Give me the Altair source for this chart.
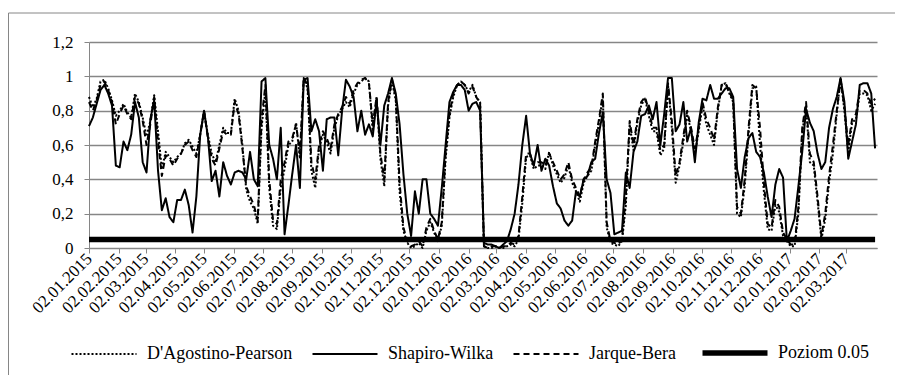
import altair as alt
import pandas as pd

start_date = "2015-01-02"
step_days = 4

# p-values, one every 4 days from 02.01.2015
shapiro = [0.71, 0.76, 0.84, 0.92, 0.95, 0.90, 0.83, 0.48, 0.47, 0.62,
           0.57, 0.66, 0.85, 0.76, 0.50, 0.44, 0.75, 0.86, 0.45, 0.22,
           0.29, 0.18, 0.15, 0.28, 0.28, 0.34, 0.25, 0.09, 0.30, 0.66,
           0.80, 0.65, 0.39, 0.45, 0.30, 0.50, 0.42, 0.37, 0.44, 0.45,
           0.44, 0.40, 0.56, 0.40, 0.36, 0.97, 0.99, 0.60, 0.52, 0.40,
           0.70, 0.08, 0.25, 0.43, 0.60, 0.35, 0.98, 0.99, 0.68, 0.75,
           0.68, 0.45, 0.75, 0.76, 0.76, 0.54, 0.80, 0.98, 0.94, 0.88,
           0.68, 0.80, 0.66, 0.72, 0.65, 0.86, 0.60, 0.83, 0.90, 0.99,
           0.90, 0.72, 0.43, 0.20, 0.07, 0.33, 0.20, 0.40, 0.40, 0.20,
           0.17, 0.13, 0.35, 0.60, 0.85, 0.91, 0.95, 0.95, 0.92, 0.80,
           0.84, 0.85, 0.80, 0.03, 0.02, 0.02, 0.01, 0.00, 0.02, 0.04,
           0.11, 0.20, 0.37, 0.60, 0.77, 0.55, 0.48, 0.60, 0.45, 0.52,
           0.48, 0.36, 0.26, 0.23, 0.16, 0.13, 0.16, 0.33, 0.30, 0.40,
           0.42, 0.50, 0.52, 0.67, 0.79, 0.40, 0.32, 0.08, 0.09, 0.10,
           0.44, 0.35, 0.56, 0.62, 0.77, 0.78, 0.83, 0.75, 0.85, 0.60,
           0.78, 0.99, 0.99, 0.68, 0.72, 0.85, 0.62, 0.70, 0.50, 0.73,
           0.87, 0.86, 0.95, 0.87, 0.87, 0.90, 0.93, 0.93, 0.88, 0.46,
           0.35, 0.53, 0.64, 0.67, 0.56, 0.53, 0.44, 0.30, 0.18, 0.37,
           0.46, 0.41, 0.04, 0.10, 0.17, 0.36, 0.56, 0.81, 0.73, 0.68,
           0.55, 0.46, 0.50, 0.70, 0.81, 0.88, 0.99, 0.85, 0.52, 0.62,
           0.72, 0.95, 0.96, 0.96, 0.90, 0.58]

dagostino = [0.88, 0.82, 0.87, 0.97, 0.98, 0.93, 0.86, 0.77, 0.80, 0.84,
             0.79, 0.76, 0.90, 0.85, 0.76, 0.65, 0.74, 0.89, 0.68, 0.46,
             0.56, 0.53, 0.50, 0.53, 0.55, 0.61, 0.63, 0.59, 0.55, 0.66,
             0.79, 0.66, 0.55, 0.50, 0.60, 0.70, 0.67, 0.67, 0.87, 0.80,
             0.60, 0.34, 0.27, 0.23, 0.14, 0.70, 0.92, 0.35, 0.13, 0.11,
             0.35, 0.46, 0.60, 0.62, 0.73, 0.52, 0.99, 0.93, 0.45, 0.35,
             0.58, 0.66, 0.62, 0.55, 0.70, 0.77, 0.81, 0.85, 0.82, 0.90,
             0.95, 0.97, 0.99, 0.97, 0.68, 0.88, 0.52, 0.36, 0.83, 0.97,
             0.86, 0.33, 0.10, 0.03, 0.00, 0.01, 0.03, 0.00, 0.10, 0.15,
             0.09, 0.04, 0.13, 0.52, 0.76, 0.88, 0.95, 0.97, 0.95, 0.91,
             0.95, 0.88, 0.85, 0.01, 0.00, 0.00, 0.01, 0.00, 0.00, 0.01,
             0.02, 0.01, 0.05, 0.26, 0.53, 0.54, 0.46, 0.48, 0.48, 0.46,
             0.56, 0.48, 0.43, 0.38, 0.41, 0.48, 0.38, 0.33, 0.27, 0.38,
             0.42, 0.45, 0.60, 0.73, 0.88, 0.12, 0.03, 0.02, 0.01, 0.04,
             0.25, 0.72, 0.57, 0.73, 0.83, 0.87, 0.77, 0.68, 0.68, 0.54,
             0.58, 0.95, 0.70, 0.38, 0.48, 0.62, 0.78, 0.68, 0.55, 0.68,
             0.83, 0.72, 0.66, 0.60, 0.80, 0.95, 0.96, 0.90, 0.85, 0.20,
             0.18, 0.36, 0.66, 0.93, 0.94, 0.60, 0.33, 0.11, 0.10, 0.25,
             0.21, 0.07, 0.04, 0.01, 0.01, 0.20, 0.67, 0.83, 0.50, 0.48,
             0.27, 0.05, 0.17, 0.38, 0.55, 0.78, 0.99, 0.80, 0.56, 0.73,
             0.75, 0.90, 0.90, 0.89, 0.80, 0.84]

jarque = [0.85, 0.80, 0.86, 0.95, 0.97, 0.92, 0.85, 0.72, 0.78, 0.83,
          0.78, 0.75, 0.88, 0.84, 0.74, 0.60, 0.72, 0.88, 0.62, 0.42,
          0.54, 0.52, 0.48, 0.52, 0.55, 0.60, 0.62, 0.57, 0.53, 0.66,
          0.80, 0.64, 0.52, 0.48, 0.58, 0.68, 0.66, 0.66, 0.85, 0.78,
          0.58, 0.36, 0.30, 0.25, 0.16, 0.75, 0.95, 0.40, 0.16, 0.14,
          0.40, 0.50, 0.62, 0.64, 0.72, 0.55, 0.99, 0.95, 0.50, 0.40,
          0.60, 0.68, 0.64, 0.58, 0.72, 0.78, 0.82, 0.88, 0.84, 0.92,
          0.96, 0.98, 0.99, 0.96, 0.72, 0.88, 0.55, 0.40, 0.85, 0.98,
          0.88, 0.38, 0.12, 0.04, 0.01, 0.02, 0.04, 0.01, 0.12, 0.17,
          0.10, 0.05, 0.15, 0.55, 0.78, 0.90, 0.95, 0.97, 0.95, 0.90,
          0.94, 0.88, 0.84, 0.01, 0.00, 0.01, 0.01, 0.00, 0.01, 0.01,
          0.03, 0.02, 0.07, 0.30, 0.55, 0.55, 0.48, 0.50, 0.50, 0.48,
          0.55, 0.50, 0.45, 0.40, 0.43, 0.50, 0.40, 0.35, 0.30, 0.40,
          0.44, 0.47, 0.62, 0.75, 0.90, 0.15, 0.04, 0.03, 0.02, 0.05,
          0.30, 0.74, 0.60, 0.75, 0.85, 0.88, 0.80, 0.70, 0.70, 0.57,
          0.60, 0.96, 0.74, 0.42, 0.50, 0.65, 0.80, 0.70, 0.58, 0.70,
          0.85, 0.75, 0.70, 0.63, 0.82, 0.95, 0.96, 0.91, 0.86, 0.24,
          0.20, 0.40, 0.70, 0.95, 0.93, 0.70, 0.38, 0.14, 0.12, 0.28,
          0.24, 0.09, 0.05, 0.02, 0.02, 0.24, 0.70, 0.85, 0.55, 0.50,
          0.30, 0.07, 0.20, 0.42, 0.60, 0.80, 0.98, 0.82, 0.60, 0.75,
          0.78, 0.92, 0.92, 0.90, 0.84, 0.87]

poziom = 0.05

series_names = ["D'Agostino-Pearson", "Shapiro-Wilka", "Jarque-Bera", "Poziom 0.05"]

tick_labels = ["02.01.2015", "02.02.2015", "02.03.2015", "02.04.2015", "02.05.2015",
               "02.06.2015", "02.07.2015", "02.08.2015", "02.09.2015", "02.10.2015",
               "02.11.2015", "02.12.2015", "02.01.2016", "02.02.2016", "02.03.2016",
               "02.04.2016", "02.05.2016", "02.06.2016", "02.07.2016", "02.08.2016",
               "02.09.2016", "02.10.2016", "02.11.2016", "02.12.2016", "02.01.2017",
               "02.02.2017", "02.03.2017"]
y_ticks = [0, 0.2, 0.4, 0.6, 0.8, 1.0, 1.2]
x_end = "03.04.2017"


def dt(s):
    d, m, y = s.split(".")
    return alt.DateTime(year=int(y), month=int(m), date=int(d), utc=True)


def frame(name, vals):
    dates = pd.Timestamp(start_date) + pd.to_timedelta(
        [i * step_days for i in range(len(vals))], unit="D")
    return pd.DataFrame({"date": dates.strftime("%Y-%m-%d"), "value": vals, "series": name})


n_last = max(len(shapiro), len(dagostino), len(jarque)) - 1
df = pd.concat([
    frame(series_names[0], dagostino),
    frame(series_names[1], shapiro),
    frame(series_names[2], jarque),
    pd.DataFrame({
        "date": [start_date,
                 (pd.Timestamp(start_date) + pd.Timedelta(days=n_last * step_days)).strftime("%Y-%m-%d")],
        "value": [poziom, poziom],
        "series": series_names[3],
    }),
], ignore_index=True)

FONT = "Liberation Serif"
GRAY = "#868686"


def make_legend():
    return alt.Legend(title=None, orient="none", legendX=-19, legendY=302,
                      direction="horizontal", columns=4,
                      symbolType="stroke", symbolSize=4225, symbolOffset=25,
                      symbolStrokeWidth={"expr": "datum.value === 'Poziom 0.05' ? 5.5 : 2"},
                      labelFont=FONT, labelFontSize=18, labelColor="black",
                      labelOffset=34, columnPadding=15)


lines = alt.Chart(df).mark_line(strokeJoin="round").encode(
    x=alt.X("date:T",
            scale=alt.Scale(type="utc", domain=[dt(tick_labels[0]), dt(x_end)], nice=False),
            axis=alt.Axis(values=[dt(s) for s in tick_labels],
                          labelExpr="utcFormat(datum.value, '%d.%m.%Y')",
                          labelAngle=-45, labelAlign="right", labelBaseline="middle",
                          labelPadding=3, tickSize=5, grid=False,
                          domainColor=GRAY, tickColor=GRAY, labelFont=FONT,
                          labelFontSize=17, labelColor="black", labelOverlap=False),
            title=None),
    y=alt.Y("value:Q",
            scale=alt.Scale(domain=[0, 1.2], nice=False, zero=False),
            axis=alt.Axis(values=y_ticks,
                          labelExpr="replace(format(datum.value, '~g'), '.', ',')",
                          tickSize=5, labelPadding=11, grid=True, gridColor=GRAY,
                          gridWidth=1.3, domainColor=GRAY, tickColor=GRAY,
                          labelFont=FONT, labelFontSize=17, labelColor="black"),
            title=None),
    color=alt.Color("series:N",
                    scale=alt.Scale(domain=series_names, range=["black"] * 4),
                    legend=make_legend()),
    strokeDash=alt.StrokeDash("series:N",
                              scale=alt.Scale(domain=series_names,
                                              range=[[2, 2], [1, 0], [6, 4], [1, 0]]),
                              legend=make_legend()),
    strokeWidth=alt.condition(alt.datum.series == "Poziom 0.05", alt.value(5.5), alt.value(2)),
)

frame_df = pd.DataFrame({"k": [0]})
left_border = alt.Chart(frame_df).mark_rule(color=GRAY, strokeWidth=1).encode(
    x=alt.value(-80.5), y=alt.value(-29), y2=alt.value(340))
top_border = alt.Chart(frame_df).mark_rule(color=GRAY, strokeWidth=1).encode(
    x=alt.value(-80.5), x2=alt.value(806), y=alt.value(-29))

chart = alt.layer(left_border, top_border, lines).properties(
    width=788, height=206,
    autosize=alt.AutoSizeParams(type="none"),
    padding={"left": 81, "top": 34, "right": 18, "bottom": 127},
    background="white",
).configure_view(strokeWidth=0)

chart.save("out.html", embed_options={"renderer": "svg", "actions": False})
